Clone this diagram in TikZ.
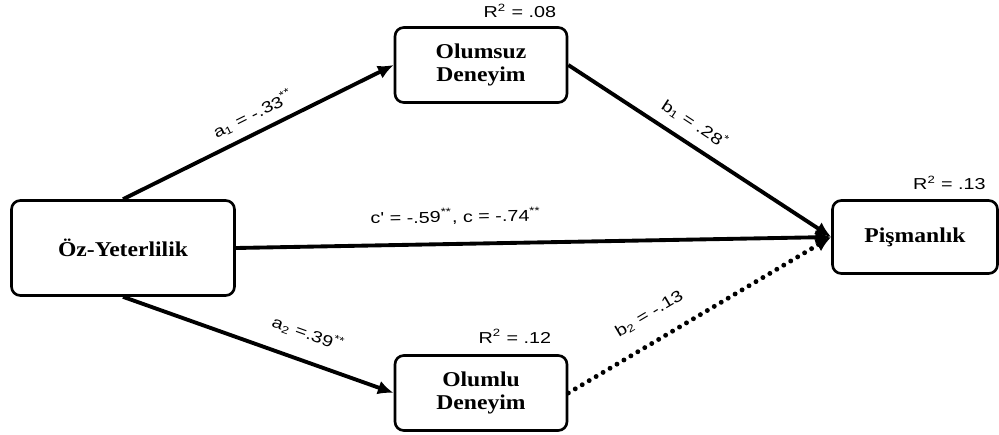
\documentclass[tikz,border=0pt]{standalone}
\usepackage{fontspec}
\setmainfont{Liberation Serif}[FakeStretch=1.12]
\newfontfamily\lblfont{Liberation Sans}[FakeStretch=1.25]
\usetikzlibrary{positioning, arrows.meta}
\tikzset{
    varbox/.style={rectangle, rounded corners=5pt, draw=black, line width=1.5pt, minimum width=3.44cm, minimum height=1.5cm, align=center, font=\fontsize{12}{13}\selectfont\bfseries},
    patharrow/.style={-{Latex[length=9pt,width=8pt]}, line width=2.2pt, color=black},
    dotline/.style={line cap=round, line width=2.8pt, dash pattern=on 0pt off 4.6pt},
    coef/.style={font=\lblfont\fontsize{9}{10}\selectfont, sloped, inner sep=1pt},
    rsq/.style={font=\lblfont\fontsize{9}{10}\selectfont, inner sep=1pt},
}
\begin{document}
\begin{tikzpicture}[x=0.02cm, y=0.02cm]
    \useasboundingbox (0,0) rectangle (999,434);

    % Degiskenler
    \node[varbox, minimum width=4.46cm, minimum height=1.9cm] (oz) at (123,186) {Öz-Yeterlilik};
    \node[varbox] (olumsuz) at (481,369) {Olumsuz\\Deneyim};
    \node[varbox] (olumlu) at (481,41) {Olumlu\\Deneyim};
    \node[varbox, minimum width=3.3cm, minimum height=1.46cm] (pisman) at (915,197) {Pişmanlık};

    % R kare degerleri
    \node[rsq, above=0.12cm of olumsuz.north east, anchor=south east, xshift=-0.2cm] (r1) {R\textsuperscript{2} = .08};
    \node[rsq, above=0.18cm of olumlu.north east, anchor=south east, xshift=-0.3cm] (r2) {R\textsuperscript{2} = .12};
    \node[rsq, above=0.14cm of pisman.north east, anchor=south east, xshift=-0.22cm] (r3) {R\textsuperscript{2} = .13};

    % Yollar
    \draw[patharrow] (oz.north) -- node[coef, above=4pt, pos=0.51] {a\textsubscript{1} = -.33\textsuperscript{**}} (olumsuz.west);
    \draw[patharrow] (oz.south) -- node[coef, above=9pt, pos=0.65] {a\textsubscript{2} =.39\textsuperscript{**}} (olumlu.west);
    \draw[patharrow] (oz.east) -- node[coef, above=9pt, pos=0.37] {c' = -.59\textsuperscript{**}, c = -.74\textsuperscript{**}} (pisman.west);
    \draw[patharrow] (olumsuz.east) -- node[coef, above=5pt, pos=0.44] {b\textsubscript{1} = .28\textsuperscript{*}} (pisman.west);
    \draw[patharrow, dotline] (olumlu.east) -- node[coef, above=9pt, pos=0.36] {b\textsubscript{2} = -.13} (pisman.west);
\end{tikzpicture}
\end{document}
